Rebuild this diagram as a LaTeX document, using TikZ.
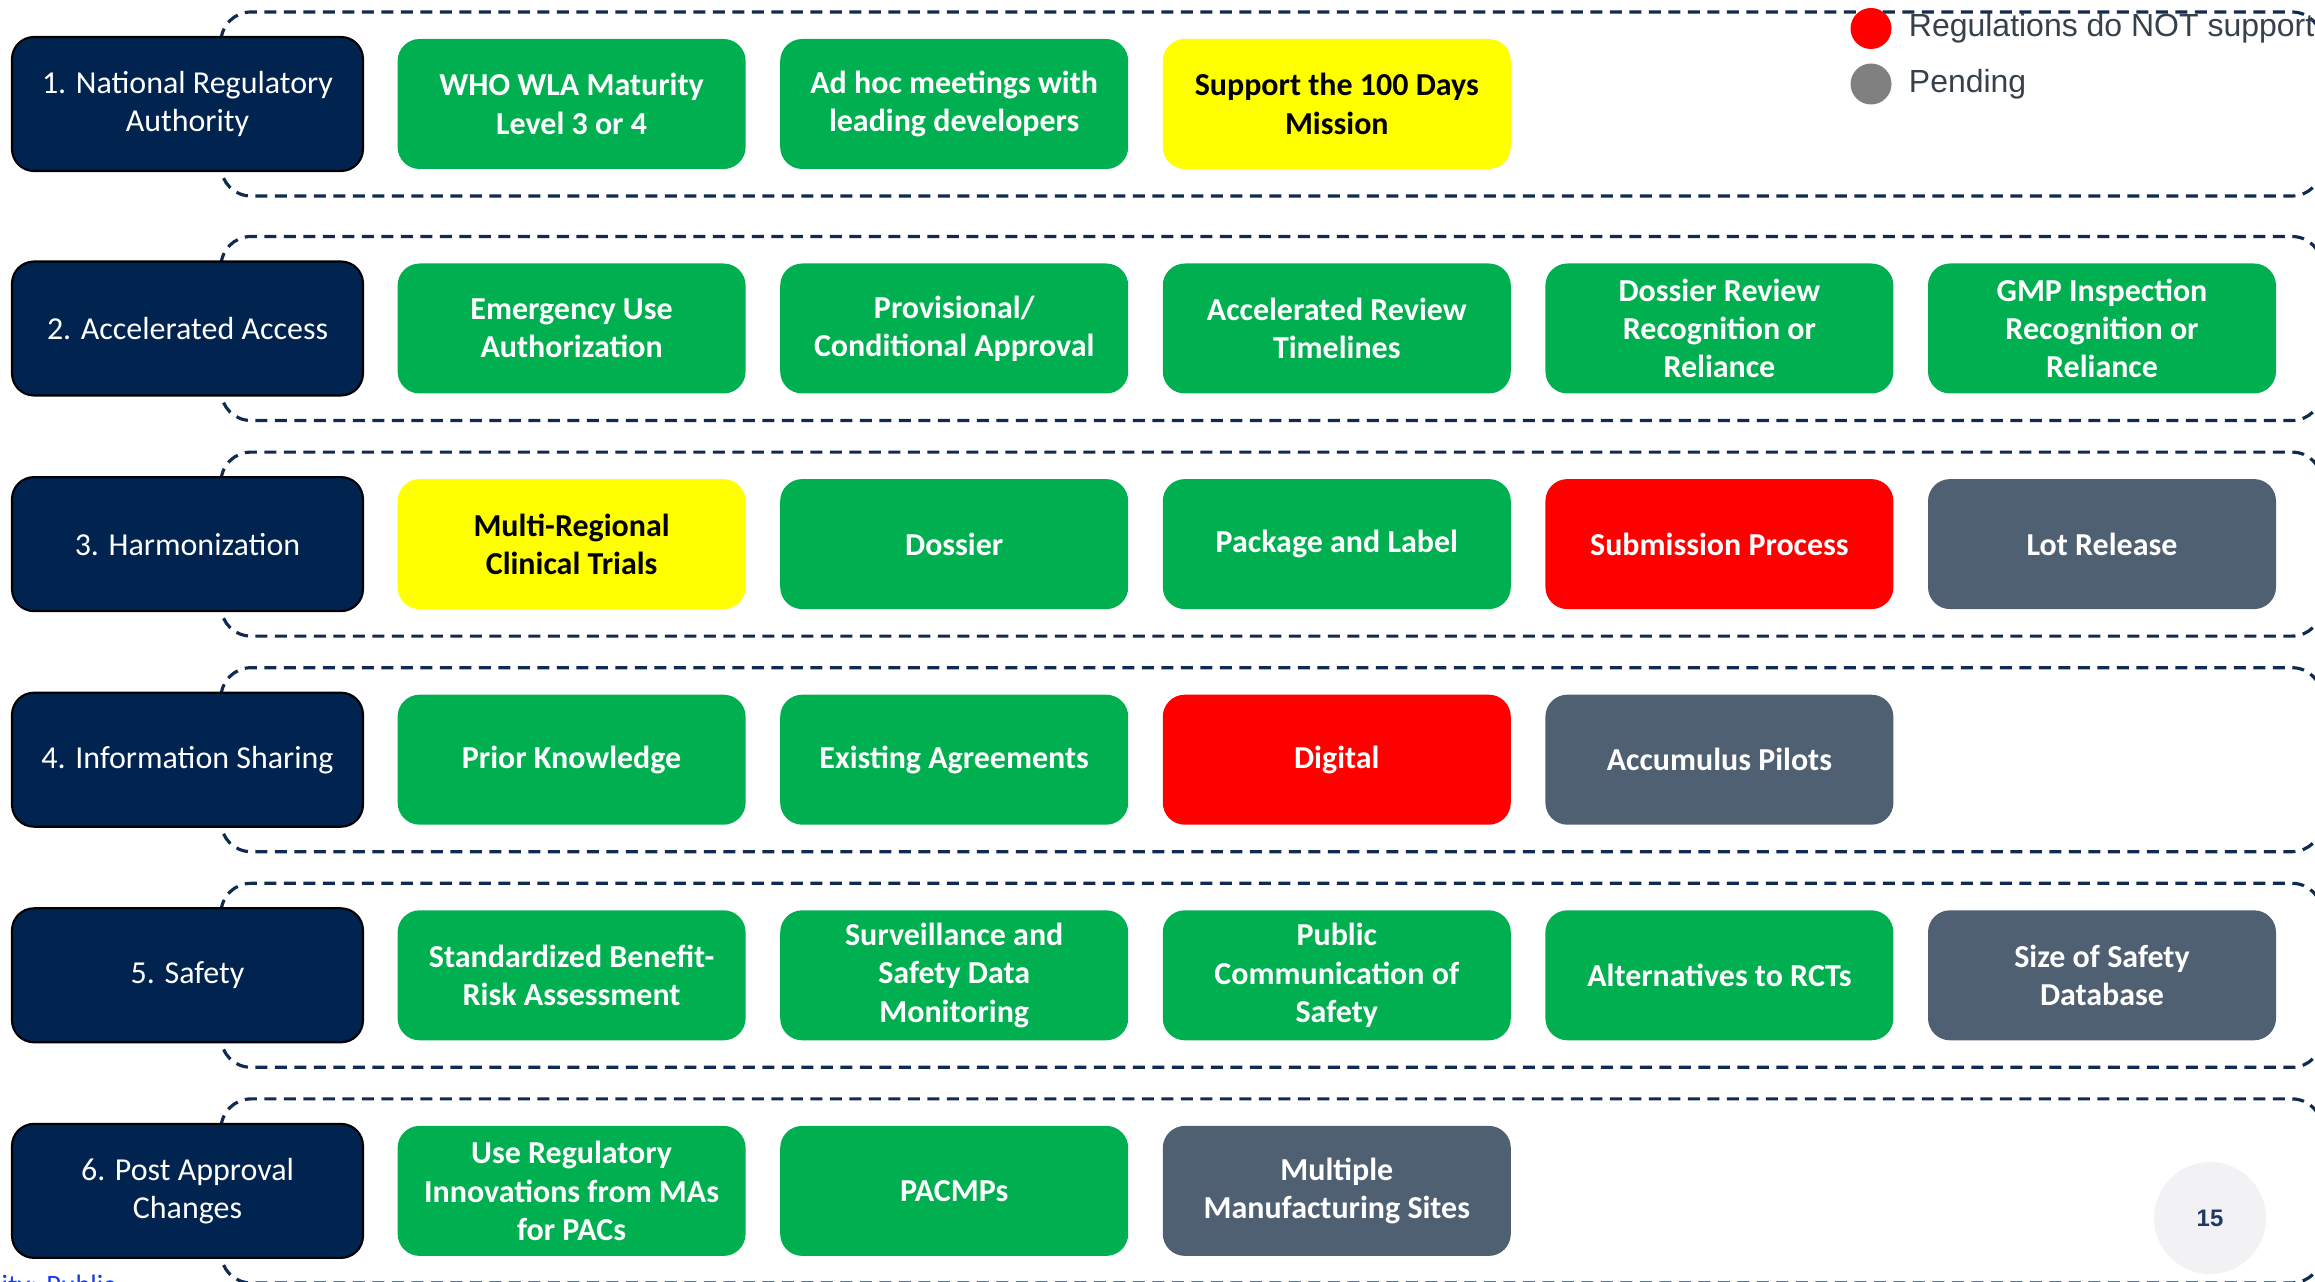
\documentclass[tikz,border=0pt]{standalone}
\usepackage{fontspec}
\setmainfont{Carlito}
\newfontfamily\legendfont{Liberation Sans}
\usetikzlibrary{positioning, backgrounds}

\definecolor{navy}{RGB}{0,35,80}
\definecolor{framenavy}{RGB}{16,42,80}
\definecolor{okgreen}{RGB}{0,176,80}
\definecolor{partyellow}{RGB}{255,255,0}
\definecolor{nored}{RGB}{255,0,0}
\definecolor{pendgray}{RGB}{80,96,115}
\definecolor{dotgray}{RGB}{128,128,128}
\definecolor{legendgray}{RGB}{55,65,75}
\definecolor{pagefill}{RGB}{242,242,244}
\definecolor{pagenavy}{RGB}{31,56,100}
\definecolor{footblue}{RGB}{30,60,230}

\begin{document}
\begin{tikzpicture}[
    node distance=0.816cm and 0.346cm,
    tile/.style={rounded corners=2.2mm, minimum width=3.48cm, minimum height=1.30cm, align=center, inner sep=2pt, outer sep=0pt, font=\fontsize{9.1}{10.9}\selectfont\bfseries, text=white},
    pillar/.style={tile, minimum width=3.51cm, minimum height=1.34cm, fill=navy, draw=black, line width=0.6pt, font=\fontsize{9.1}{10.9}\selectfont},
    supported/.style={tile, fill=okgreen},
    partial/.style={tile, fill=partyellow, text=black},
    blocked/.style={tile, fill=nored},
    pending/.style={tile, fill=pendgray},
    grpframe/.style={draw=framenavy, line width=0.9pt, dash pattern=on 1.2mm off 0.75mm, rounded corners=3mm},
    legdot/.style={circle, minimum size=0.41cm, inner sep=0pt},
    legtext/.style={inner sep=0pt, text=legendgray, font=\legendfont\fontsize{9.1}{10.8}\selectfont}
]
\useasboundingbox (0,0) rectangle (23.15,-12.82);

% 1. National Regulatory Authority
\node[pillar] (NRA) at (1.875,-1.04) {1. National Regulatory\\Authority};
\node[supported, right=of NRA] (WLA) {WHO WLA Maturity\\Level 3 or 4};
\node[supported, right=of WLA] (ADH) {Ad hoc meetings with\\leading developers};
\node[partial, right=of ADH] (HDM) {Support the 100 Days\\Mission};

% 2. Accelerated Access
\node[pillar, below=0.905cm of NRA] (ACC) {2. Accelerated Access};
\node[supported, right=of ACC] (EUA) {Emergency Use\\Authorization};
\node[supported, right=of EUA] (PCA) {Provisional/\\Conditional Approval};
\node[supported, right=of PCA] (ART) {Accelerated Review\\Timelines};
\node[supported, right=of ART] (DRR) {Dossier Review\\Recognition or\\Reliance};
\node[supported, right=of DRR] (GMP) {GMP Inspection\\Recognition or\\Reliance};

% 3. Harmonization
\node[pillar, below=of ACC] (HAR) {3. Harmonization};
\node[partial, right=of HAR] (MRCT) {Multi-Regional\\Clinical Trials};
\node[supported, right=of MRCT] (DOS) {Dossier};
\node[supported, right=of DOS] (PKL) {Package and Label};
\node[blocked, right=of PKL] (SUB) {Submission Process};
\node[pending, right=of SUB] (LOT) {Lot Release};

% 4. Information Sharing
\node[pillar, below=of HAR] (INF) {4. Information Sharing};
\node[supported, right=of INF] (PRK) {Prior Knowledge};
\node[supported, right=of PRK] (AGR) {Existing Agreements};
\node[blocked, right=of AGR] (DIG) {Digital};
\node[pending, right=of DIG] (ACP) {Accumulus Pilots};

% 5. Safety
\node[pillar, below=of INF] (SAF) {5. Safety};
\node[supported, right=of SAF] (BRA) {Standardized Benefit-\\Risk Assessment};
\node[supported, right=of BRA] (SDM) {Surveillance and\\Safety Data\\Monitoring};
\node[supported, right=of SDM] (PCS) {Public\\Communication of\\Safety};
\node[supported, right=of PCS] (ALT) {Alternatives to RCTs};
\node[pending, right=of ALT] (SDB) {Size of Safety\\Database};

% 6. Post Approval Changes
\node[pillar, below=of SAF] (PAC) {6. Post Approval\\Changes};
\node[supported, right=of PAC] (URI) {Use Regulatory\\Innovations from MAs\\for PACs};
\node[supported, right=of URI] (PCM) {PACMPs};
\node[pending, right=of PCM] (MMS) {Multiple\\Manufacturing Sites};

% dashed frames behind each row
\coordinate (leftrim) at (2.21,0);
\coordinate (rightrim) at (23.22,0);
\begin{pgfonlayer}{background}
  \foreach \r in {NRA,ACC,HAR,INF,SAF,PAC}
    \draw[grpframe] ([yshift=9.2mm]\r.center -| leftrim) rectangle ([yshift=-9.2mm]\r.center -| rightrim);
\end{pgfonlayer}

% legend
\node[legdot, fill=nored] (dotno) at (18.71,-0.285) {};
\node[legtext, right=0.16cm of dotno] (legno) {Regulations do NOT support};
\node[legdot, fill=dotgray] (dotpend) at (18.71,-0.84) {};
\node[legtext, right=0.16cm of dotpend] (legpend) {Pending};

% page number and footer
\node[circle, minimum size=1.12cm, inner sep=0pt, fill=pagefill, text=pagenavy, font=\legendfont\bfseries\fontsize{6.8}{8}\selectfont] (pgnum) at (22.10,-12.18) {15};
\node[anchor=north west, inner sep=0pt, text=footblue, font=\fontsize{8}{9}\selectfont] (foot) at (0.01,-12.74) {ity: Public};

\end{tikzpicture}
\end{document}
